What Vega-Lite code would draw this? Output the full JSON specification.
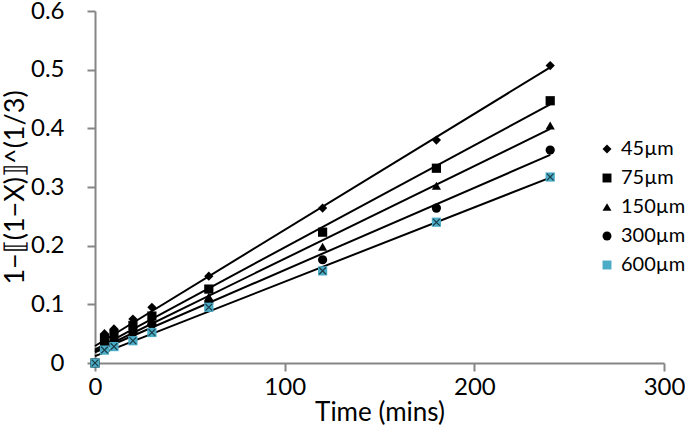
{
  "$schema": "https://vega.github.io/schema/vega-lite/v6.json",
  "width": 569,
  "height": 352,
  "autosize": "none",
  "padding": {"left": 95, "top": 11, "right": 21, "bottom": 70},
  "background": "white",
  "config": {
    "view": {"stroke": null},
    "font": "Lato"
  },
  "data": {
    "values": [
      {"t": 0, "s": "45µm", "y": 0},
      {"t": 5, "s": "45µm", "y": 0.050},
      {"t": 10, "s": "45µm", "y": 0.058},
      {"t": 20, "s": "45µm", "y": 0.075},
      {"t": 30, "s": "45µm", "y": 0.095},
      {"t": 60, "s": "45µm", "y": 0.148},
      {"t": 120, "s": "45µm", "y": 0.264},
      {"t": 180, "s": "45µm", "y": 0.380},
      {"t": 240, "s": "45µm", "y": 0.507},
      {"t": 0, "s": "75µm", "y": 0},
      {"t": 5, "s": "75µm", "y": 0.042},
      {"t": 10, "s": "75µm", "y": 0.050},
      {"t": 20, "s": "75µm", "y": 0.064},
      {"t": 30, "s": "75µm", "y": 0.080},
      {"t": 60, "s": "75µm", "y": 0.126},
      {"t": 120, "s": "75µm", "y": 0.223},
      {"t": 180, "s": "75µm", "y": 0.332},
      {"t": 240, "s": "75µm", "y": 0.447},
      {"t": 0, "s": "150µm", "y": 0},
      {"t": 5, "s": "150µm", "y": 0.036},
      {"t": 10, "s": "150µm", "y": 0.044},
      {"t": 20, "s": "150µm", "y": 0.058},
      {"t": 30, "s": "150µm", "y": 0.072},
      {"t": 60, "s": "150µm", "y": 0.113},
      {"t": 120, "s": "150µm", "y": 0.198},
      {"t": 180, "s": "150µm", "y": 0.302},
      {"t": 240, "s": "150µm", "y": 0.405},
      {"t": 0, "s": "300µm", "y": 0},
      {"t": 5, "s": "300µm", "y": 0.032},
      {"t": 10, "s": "300µm", "y": 0.040},
      {"t": 20, "s": "300µm", "y": 0.052},
      {"t": 30, "s": "300µm", "y": 0.066},
      {"t": 60, "s": "300µm", "y": 0.104},
      {"t": 120, "s": "300µm", "y": 0.176},
      {"t": 180, "s": "300µm", "y": 0.264},
      {"t": 240, "s": "300µm", "y": 0.363},
      {"t": 0, "s": "600µm", "y": 0},
      {"t": 5, "s": "600µm", "y": 0.022},
      {"t": 10, "s": "600µm", "y": 0.028},
      {"t": 20, "s": "600µm", "y": 0.038},
      {"t": 30, "s": "600µm", "y": 0.052},
      {"t": 60, "s": "600µm", "y": 0.095},
      {"t": 120, "s": "600µm", "y": 0.157},
      {"t": 180, "s": "600µm", "y": 0.240},
      {"t": 240, "s": "600µm", "y": 0.317}
    ]
  },
  "encoding": {
    "x": {"field": "t", "type": "quantitative", "scale": {"domain": [0, 300], "nice": false}, "axis": {"values": [0, 100, 200, 300], "title": "Time (mins)", "grid": false, "labelFlush": false, "labelOverlap": false, "domainColor": "#868686", "tickColor": "#868686", "domainWidth": 2, "tickWidth": 2, "tickSize": 8, "labelColor": "black", "titleColor": "black", "labelFont": "Lato", "titleFont": "Lato", "labelFontSize": 24, "titleFontSize": 26, "titleFontWeight": "normal", "titlePadding": 0, "labelPadding": 4}},
    "y": {"field": "y", "type": "quantitative", "scale": {"domain": [0, 0.6], "nice": false}, "axis": {"values": [0, 0.1, 0.2, 0.3, 0.4, 0.5, 0.6], "format": "~g", "title": "1−⟦(1−X)⟧^(1/3)", "grid": false, "labelFlush": false, "labelOverlap": false, "domainColor": "#868686", "tickColor": "#868686", "domainWidth": 2, "tickWidth": 2, "tickSize": 8, "labelColor": "black", "titleColor": "black", "labelFont": "Lato", "titleFont": "Lato", "labelFontSize": 24, "titleFontSize": 27, "titleFontWeight": "normal", "titlePadding": 1, "labelPadding": 23}}
  },
  "layer": [
    {
      "transform": [{"regression": "y", "on": "t", "groupby": ["s"], "method": "linear"}],
      "mark": {"type": "line", "color": "black", "strokeWidth": 2},
      "encoding": {"detail": {"field": "s"}}
    },
    {
      "mark": {"type": "point", "filled": true, "size": 85, "opacity": 1},
      "encoding": {
        "color": {"field": "s", "type": "nominal", "scale": {"domain": ["45µm", "75µm", "150µm", "300µm", "600µm"], "range": ["black", "black", "black", "black", "#4BACC6"]}, "legend": {"orient": "none", "legendX": 502, "legendY": 128, "title": null, "labelFontSize": 20, "labelFont": "Lato", "symbolSize": 80, "rowPadding": 9, "labelOffset": 4}},
        "shape": {"field": "s", "type": "nominal", "scale": {"domain": ["45µm", "75µm", "150µm", "300µm", "600µm"], "range": ["diamond", "square", "triangle-up", "circle", "square"]}, "legend": null}
      }
    },
    {
      "transform": [{"filter": "datum.s === '600µm'"}],
      "mark": {"type": "point", "shape": "M-1,-1L1,1M1,-1L-1,1", "filled": false, "stroke": "#1a3a44", "strokeWidth": 1.2, "size": 45, "opacity": 1}
    }
  ]
}
